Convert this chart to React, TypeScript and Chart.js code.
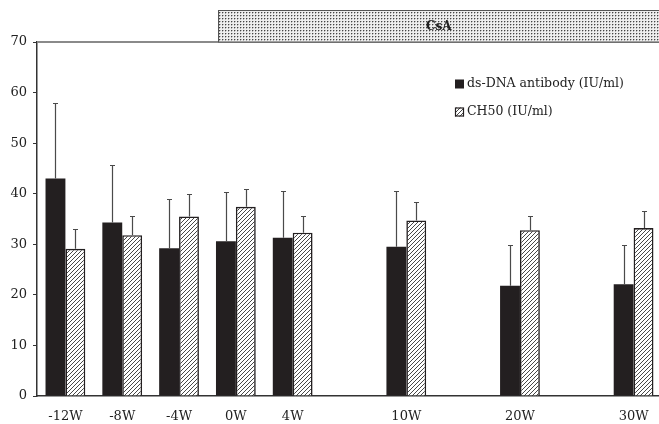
import { useEffect, useRef } from 'react';
import { Chart, registerables } from 'chart.js';

Chart.register(...registerables);

const categories = ['-12W', '-8W', '-4W', '0W', '4W', '', '10W', '', '20W', '', '30W'];
const dsDnaValues = [43.0, 34.3, 29.2, 30.6, 31.3, null, 29.5, null, 21.8, null, 22.1];
const dsDnaErrors = [14.9, 11.3, 9.8, 9.7, 9.3, null, 11.1, null, 8.1, null, 7.8];
const ch50Values = [29.1, 31.8, 35.5, 37.4, 32.3, null, 34.7, null, 32.8, null, 33.2];
const ch50Errors = [3.9, 3.7, 4.4, 3.6, 3.3, null, 3.7, null, 2.8, null, 3.4];
const seriesLabels = ['ds-DNA antibody (IU/ml)', 'CH50 (IU/ml)'];
const bandLabel = 'CsA';
const bandStartCategory = 3;
const yMin = 0;
const yMax = 70;
const yStep = 10;

const FONT = "'DejaVu Serif', serif";
const INK = '#231f20';

function makeHatch(): CanvasPattern | string {
  const c = document.createElement('canvas');
  c.width = 4;
  c.height = 4;
  const g = c.getContext('2d');
  if (!g) return '#fff';
  g.fillStyle = '#fff';
  g.fillRect(0, 0, 4, 4);
  g.strokeStyle = '#333';
  g.lineWidth = 0.9;
  g.beginPath();
  g.moveTo(-1, 5);
  g.lineTo(5, -1);
  g.moveTo(-1, 1);
  g.lineTo(1, -1);
  g.moveTo(3, 5);
  g.lineTo(5, 3);
  g.stroke();
  return g.createPattern(c, 'repeat') || '#fff';
}

function makeDots(): CanvasPattern | string {
  const c = document.createElement('canvas');
  c.width = 3;
  c.height = 3;
  const g = c.getContext('2d');
  if (!g) return '#ddd';
  g.fillStyle = '#eeeeee';
  g.fillRect(0, 0, 3, 3);
  g.fillStyle = '#b4b4b4';
  g.fillRect(1, 0, 1, 1);
  g.fillRect(0, 1, 1, 1);
  g.fillStyle = '#444';
  g.fillRect(0, 0, 1, 1);
  return g.createPattern(c, 'repeat') || '#ddd';
}

export default function App() {
  const ref = useRef<HTMLCanvasElement | null>(null);

  useEffect(() => {
    if (!ref.current) return;
    const hatch = makeHatch();
    const dots = makeDots();
    const errs = [dsDnaErrors, ch50Errors];

    const decor = {
      id: 'decor',
      afterDatasetsDraw(chart: any) {
        const { ctx, scales } = chart;
        const y = scales.y;
        ctx.save();
        ctx.strokeStyle = '#4a4a4a';
        ctx.lineWidth = 1.2;
        [0, 1].forEach((di) => {
          const meta = chart.getDatasetMeta(di);
          const vals = chart.data.datasets[di].data as (number | null)[];
          meta.data.forEach((el: any, i: number) => {
            const v = vals[i];
            const e = errs[di][i];
            if (v == null || e == null) return;
            const yt = Math.round(y.getPixelForValue(v + e)) + 0.5;
            const x = Math.round(el.x) + 0.5;
            ctx.beginPath();
            ctx.moveTo(x, el.y);
            ctx.lineTo(x, yt);
            ctx.moveTo(x - 2.5, yt);
            ctx.lineTo(x + 2.5, yt);
            ctx.stroke();
          });
        });
        ctx.restore();
      },
      afterDraw(chart: any) {
        const { ctx, chartArea, scales } = chart;
        const y = scales.y;
        const top = y.getPixelForValue(yMax);
        ctx.save();
        ctx.strokeStyle = '#8a8a8a';
        ctx.lineWidth = 2;
        ctx.beginPath();
        ctx.moveTo(chartArea.left, top);
        ctx.lineTo(chartArea.right, top);
        ctx.stroke();
        const meta0 = chart.getDatasetMeta(0);
        const el = meta0.data[bandStartCategory] as any;
        const bx = Math.round(el.x - el.width / 2) + 2.5;
        const by = 10.5;
        const bw = chartArea.right - bx + 5;
        const bh = top - by;
        ctx.fillStyle = dots;
        ctx.fillRect(bx, by, bw, bh);
        ctx.strokeStyle = '#555';
        ctx.lineWidth = 1;
        ctx.strokeRect(bx, by, bw, bh);
        ctx.fillStyle = '#222';
        ctx.font = `bold 12px ${FONT}`;
        ctx.textAlign = 'center';
        ctx.textBaseline = 'middle';
        ctx.fillText(bandLabel, (bx + 659) / 2, by + bh / 2 + 1);
        const lx = 455;
        const rows = [84, 112];
        ctx.font = `12.5px ${FONT}`;
        ctx.textAlign = 'left';
        ctx.textBaseline = 'middle';
        rows.forEach((ry, i) => {
          if (i === 0) {
            ctx.fillStyle = INK;
            ctx.fillRect(lx, ry - 4.5, 9, 9);
          } else {
            ctx.fillStyle = hatch;
            ctx.fillRect(lx, ry - 4.5, 9, 9);
            ctx.strokeStyle = INK;
            ctx.lineWidth = 1.2;
            ctx.strokeRect(lx + 0.5, ry - 4, 8, 8);
          }
          ctx.fillStyle = '#222';
          ctx.fillText(seriesLabels[i], lx + 12, ry);
        });
        ctx.restore();
      },
    };

    const chart = new Chart(ref.current, {
      type: 'bar',
      data: {
        labels: categories,
        datasets: [
          {
            label: seriesLabels[0],
            data: dsDnaValues as any,
            backgroundColor: INK,
            borderWidth: 0,
            categoryPercentage: 0.7,
            barPercentage: 1,
          },
          {
            label: seriesLabels[1],
            data: ch50Values as any,
            backgroundColor: hatch as any,
            borderColor: INK,
            borderWidth: 1.6,
            categoryPercentage: 0.7,
            barPercentage: 1,
          },
        ],
      },
      options: {
        responsive: false,
        animation: false,
        layout: { padding: { top: 42, left: 0, right: 0, bottom: 0 } },
        plugins: { legend: { display: false }, tooltip: { enabled: false } },
        scales: {
          x: {
            grid: { display: false },
            border: { display: true, color: '#333', width: 1.5 },
            ticks: {
              autoSkip: false,
              maxRotation: 0,
              padding: 5,
              color: '#222',
              font: { family: FONT, size: 13 },
            },
            afterFit: (s: any) => {
              s.height = 28;
            },
          },
          y: {
            min: yMin,
            max: yMax,
            grid: { display: true, drawOnChartArea: false, drawTicks: true, tickLength: 4, color: '#333', lineWidth: 1 },
            border: { display: true, color: '#333', width: 1.5 },
            ticks: {
              stepSize: yStep,
              padding: 6,
              color: '#222',
              font: { family: FONT, size: 13 },
            },
            afterFit: (s: any) => {
              s.width = 37;
            },
          },
        },
      },
      plugins: [decor],
    });
    return () => chart.destroy();
  }, []);

  return (
    <div style={{ position: 'fixed', left: 0, top: 0, width: 659, height: 424, overflow: 'hidden', background: '#fff' }}>
      <canvas ref={ref} width={662} height={424} style={{ display: 'block' }} />
    </div>
  );
}
